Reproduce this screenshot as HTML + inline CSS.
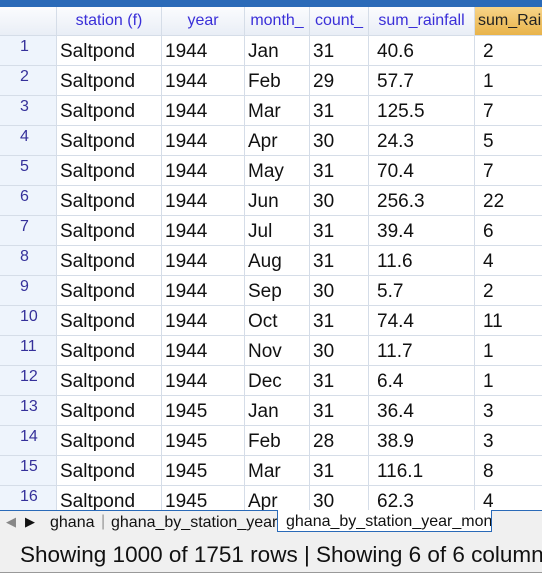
<!DOCTYPE html>
<html><head><meta charset="utf-8"><style>
body{margin:0;width:542px;height:573px;overflow:hidden;background:#fff;font-family:"Liberation Sans",Arial,sans-serif;position:relative}
#topbar{position:absolute;left:0;top:0;width:542px;height:7px;background:#2a6ab8}
#gridwrap{position:absolute;left:0;top:0;width:542px;height:510px;overflow:hidden}
.c{position:absolute;box-sizing:border-box;border-right:1px solid #d5dde8;border-bottom:1px solid #d5dde8;white-space:nowrap;overflow:hidden}
.h{background:linear-gradient(#fbfcfe,#e9eef6);color:#3a2fd8;font-size:16px;text-align:center;line-height:28px}
.h.sel{background:linear-gradient(#f8d488,#e8b34a);color:#222;text-align:left;padding-left:3px}
.d{font-size:19px;color:#111;padding-left:3px;line-height:32px}
.rn{background:#eef4fc;color:#35309a;font-size:16px;padding-left:20px;line-height:22px}
#tabs{position:absolute;left:0;top:510px;width:542px;height:25px;background:#f0f0f0;border-top:1px solid #2a6ab8;font-size:16px;color:#111}
#status{position:absolute;left:0;top:536px;width:542px;height:37px;background:#f0f0f0;font-size:22.5px;color:#111;line-height:37px;padding-left:20px;white-space:nowrap;border-bottom:1px solid #999;box-sizing:border-box;overflow:hidden}
</style></head><body>
<div id="topbar"></div>
<div id="gridwrap"></div>
<div id="tabs">
<span style="position:absolute;left:6px;top:3px;color:#888;font-size:13px">◀</span>
<span style="position:absolute;left:25px;top:3px;font-size:13px">▶</span>
<span style="position:absolute;left:50px;top:3px">ghana</span>
<span style="position:absolute;left:101px;top:2px;color:#999">|</span>
<span style="position:absolute;left:111px;top:3px">ghana_by_station_year</span>
<span style="position:absolute;left:277px;top:-1px;width:215px;height:22px;background:#fff;border:1px solid #2a6ab8;border-top:none;padding:3px 0 0 8px;box-sizing:border-box;overflow:hidden;white-space:nowrap">ghana_by_station_year_mon</span>
</div>
<div id="status">Showing 1000 of 1751 rows | Showing 6 of 6 columns</div>
<script>
const headers=["","station (f)","year","month_","count_","sum_rainfall","sum_Rain"];
const years=[1944,1944,1944,1944,1944,1944,1944,1944,1944,1944,1944,1944,1945,1945,1945,1945];
const months=["Jan","Feb","Mar","Apr","May","Jun","Jul","Aug","Sep","Oct","Nov","Dec","Jan","Feb","Mar","Apr"];
const counts=[31,29,31,30,31,30,31,31,30,31,30,31,31,28,31,30];
const rainfall=["40.6","57.7","125.5","24.3","70.4","256.3","39.4","11.6","5.7","74.4","11.7","6.4","36.4","38.9","116.1","62.3"];
const raindays=[2,1,7,5,7,22,6,4,2,11,1,1,3,3,8,4];
const xs=[0,57,162,245,310,369,475,560];
const g=document.getElementById('gridwrap');
function cell(x,y,w,h,cls,txt){
  const d=document.createElement('div');
  d.className='c '+cls;
  d.style.left=x+'px';d.style.top=y+'px';d.style.width=w+'px';d.style.height=h+'px';
  d.textContent=txt;
  g.appendChild(d);
  return d;
}
headers.forEach((t,j)=>{
  const d=cell(xs[j],7,xs[j+1]-xs[j],29,'h'+(j===6?' sel':''),t);
  
  
});
for(let i=0;i<years.length;i++){
  const y=36+30*i;
  const vals=[i+1,'Saltpond',years[i],months[i],counts[i],rainfall[i],raindays[i]];
  vals.forEach((v,j)=>{
    const d=cell(xs[j],y,xs[j+1]-xs[j],30,j===0?'rn':'d',v);
    if(j===5||j===6)d.style.paddingLeft='8px';
    
    
  });
}
</script>
</body></html>
